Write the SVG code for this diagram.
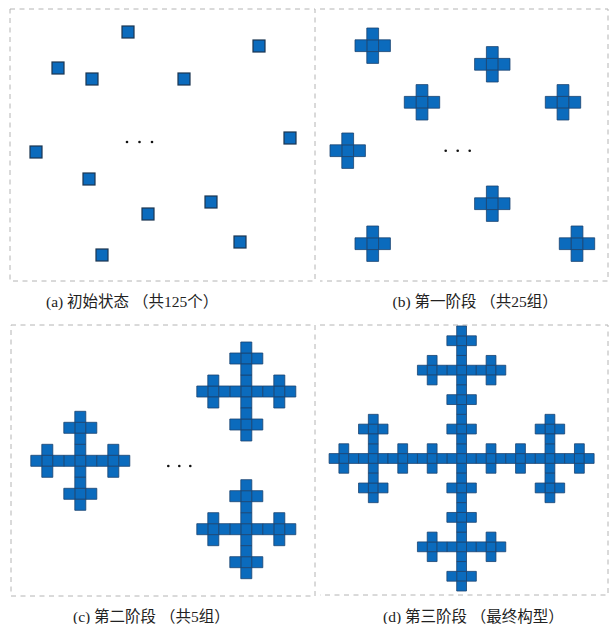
<svg xmlns="http://www.w3.org/2000/svg" xmlns:xlink="http://www.w3.org/1999/xlink" width="609" height="624" viewBox="0 0 609 624">
<style>
.frame{fill:none;stroke:#b4b4b4;stroke-width:1;stroke-dasharray:5 4.5}
.cell{fill:#0b6bbd;stroke:#1a4270;stroke-width:0.8;vector-effect:non-scaling-stroke}
.sq{fill:#0b6bbd;stroke:#1b3550;stroke-width:1.2}
.dot{fill:#111}
.lbl{font-family:"Liberation Serif","Noto Sans CJK SC",serif;font-size:15.5px;fill:#222}
</style>
<defs>
<rect id="c" x="-0.5" y="-0.5" width="1" height="1" class="cell"/>
<g id="s1"><use href="#c"/><use href="#c" x="-1"/><use href="#c" x="1"/><use href="#c" y="-1"/><use href="#c" y="1"/></g>
<g id="s2"><use href="#s1"/><use href="#s1" x="-3"/><use href="#s1" x="3"/><use href="#s1" y="-3"/><use href="#s1" y="3"/></g>
<g id="s3"><use href="#s2"/><use href="#s2" x="-9"/><use href="#s2" x="9"/><use href="#s2" y="-9"/><use href="#s2" y="9"/></g>
</defs>
<rect width="609" height="624" fill="#fff"/>

<g id="panel-a">
<rect class="frame" x="10" y="9" width="305" height="272"/>
<rect class="sq" x="122" y="26" width="12" height="12"/>
<rect class="sq" x="253" y="40" width="12" height="12"/>
<rect class="sq" x="52" y="62" width="12" height="12"/>
<rect class="sq" x="86" y="73" width="12" height="12"/>
<rect class="sq" x="178" y="73" width="12" height="12"/>
<rect class="sq" x="284" y="132" width="12" height="12"/>
<rect class="sq" x="30" y="146" width="12" height="12"/>
<rect class="sq" x="83" y="173" width="12" height="12"/>
<rect class="sq" x="205" y="196" width="12" height="12"/>
<rect class="sq" x="142" y="208" width="12" height="12"/>
<rect class="sq" x="234" y="236" width="12" height="12"/>
<rect class="sq" x="96" y="249" width="12" height="12"/>
<circle class="dot" cx="127" cy="142" r="1.3"/><circle class="dot" cx="139.5" cy="142" r="1.3"/><circle class="dot" cx="152" cy="142" r="1.3"/>
<text class="lbl" x="46" y="306.5">(a) 初始状态 （共125个）</text>
</g>

<g id="panel-b">
<path class="frame" d="M320,9 H608 V281 H320"/>
<use href="#s1" transform="translate(372.7,45.7) scale(11.8)"/>
<use href="#s1" transform="translate(492.3,64.3) scale(11.8)"/>
<use href="#s1" transform="translate(422,102.3) scale(11.8)"/>
<use href="#s1" transform="translate(563,102.3) scale(11.8)"/>
<use href="#s1" transform="translate(347.7,150.7) scale(11.8)"/>
<use href="#s1" transform="translate(492.3,203.7) scale(11.8)"/>
<use href="#s1" transform="translate(372.7,243.7) scale(11.8)"/>
<use href="#s1" transform="translate(577,243.7) scale(11.8)"/>
<circle class="dot" cx="445.7" cy="150.7" r="1.3"/><circle class="dot" cx="457.7" cy="150.7" r="1.3"/><circle class="dot" cx="469.7" cy="150.7" r="1.3"/>
<text class="lbl" x="392.5" y="306.5">(b) 第一阶段 （共25组）</text>
</g>

<g id="panel-c">
<rect class="frame" x="11" y="325" width="304" height="271"/>
<use href="#s2" transform="translate(80.3,460.8) scale(11)"/>
<use href="#s2" transform="translate(246.3,391.5) scale(11)"/>
<use href="#s2" transform="translate(246.3,529.2) scale(11)"/>
<circle class="dot" cx="168.3" cy="466" r="1.3"/><circle class="dot" cx="179.3" cy="466" r="1.3"/><circle class="dot" cx="190.3" cy="466" r="1.3"/>
<text class="lbl" x="73" y="621.5">(c) 第二阶段 （共5组）</text>
</g>

<g id="panel-d">
<path class="frame" d="M320,325 H608 V595 H320"/>
<use href="#s3" transform="translate(461.6,458.5) scale(9.815)"/>
<text class="lbl" x="383" y="621.5">(d) 第三阶段 （最终构型）</text>
</g>
</svg>
